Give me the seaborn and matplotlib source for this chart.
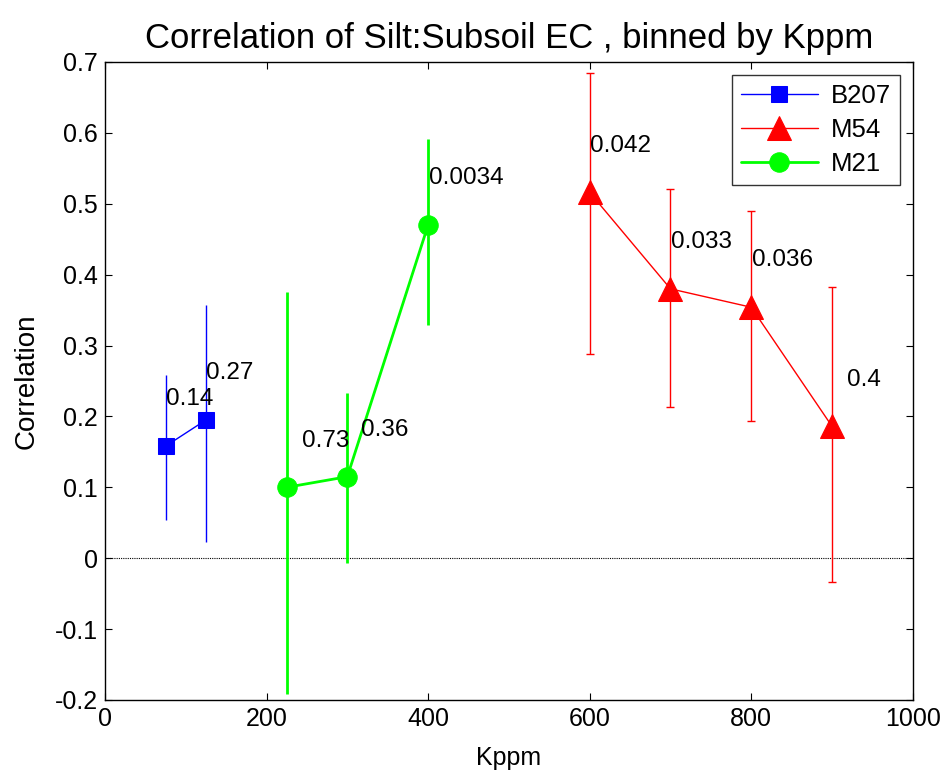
import numpy as np
import pandas as pd
import matplotlib
matplotlib.use("Agg")
import matplotlib.pyplot as plt
import seaborn as sns

# ---- data ----
b207_x = [75, 125]
b207_y = [0.158, 0.195]
b207_lo = [0.054, 0.023]
b207_hi = [0.258, 0.357]
b207_p = ["0.14", "0.27"]

m54_x = [600, 700, 800, 900]
m54_y = [0.516, 0.380, 0.354, 0.186]
m54_lo = [0.288, 0.214, 0.194, -0.033]
m54_hi = [0.685, 0.521, 0.490, 0.383]
m54_p = ["0.042", "0.033", "0.036", "0.4"]

m21_x = [225, 300, 400]
m21_y = [0.100, 0.115, 0.470]
m21_lo = [-0.191, -0.007, 0.329]
m21_hi = [0.376, 0.233, 0.591]
m21_p = ["0.73", "0.36", "0.0034"]

series = ["B207", "M54", "M21"]
x_ticks = [0, 200, 400, 600, 800, 1000]
y_ticks = [-0.2, -0.1, 0, 0.1, 0.2, 0.3, 0.4, 0.5, 0.6, 0.7]

sns.set_theme(style="white")
plt.rcParams['font.family'] = ['Liberation Sans', 'DejaVu Sans']
plt.rcParams['text.color'] = 'black'
plt.rcParams['axes.labelcolor'] = 'black'

fig = plt.figure(figsize=(9.43, 7.72), dpi=100)
ax = fig.add_axes([0.1113, 0.0933, 0.8567, 0.8264])

styles = {
    "B207": dict(color="#0000ff", marker="s", ms=11.5, lw=1.0, cap=0, elw=1.0),
    "M54": dict(color="#ff0000", marker="^", ms=17, lw=1.0, cap=3, elw=1.0),
    "M21": dict(color="#00ff00", marker="o", ms=14, lw=2.0, cap=0, elw=2.0),
}
data = {
    "B207": (b207_x, b207_y, b207_lo, b207_hi, b207_p),
    "M54": (m54_x, m54_y, m54_lo, m54_hi, m54_p),
    "M21": (m21_x, m21_y, m21_lo, m21_hi, m21_p),
}
label_dx = {
    "B207": [0, 0],
    "M54": [1, 1, 1, 19],
    "M21": [19, 17, 1],
}

ax.axhline(0, color="black", lw=0.8, ls=(0, (1, 1)), zorder=1)

for name in series:
    x, y, lo, hi, p = data[name]
    st = styles[name]
    df = pd.DataFrame({"x": x, "y": y})
    yerr = np.array([np.array(y) - np.array(lo), np.array(hi) - np.array(y)])
    ax.errorbar(x, y, yerr=yerr, fmt="none", ecolor=st["color"],
                elinewidth=st["elw"], capsize=st["cap"], capthick=1.0, zorder=2)
    sns.lineplot(data=df, x="x", y="y", ax=ax, color=st["color"], lw=st["lw"],
                 marker=st["marker"], markersize=st["ms"], markeredgecolor=st["color"],
                 markerfacecolor=st["color"], label=name, zorder=3, sort=False)
    for xi, yi, pi, dx in zip(x, y, p, label_dx[name]):
        ax.text(xi + dx, yi + 0.066, pi, fontsize=17.5, ha="left", va="center",
                color="black", zorder=4)

ax.set_xlim(0, 1000)
ax.set_ylim(-0.2, 0.7)
ax.set_xticks(x_ticks)
ax.set_xticklabels([str(t) for t in x_ticks])
ax.set_yticks(y_ticks)
ax.set_yticklabels(["-0.2", "-0.1", "0", "0.1", "0.2", "0.3", "0.4", "0.5", "0.6", "0.7"])
ax.tick_params(axis="both", direction="in", length=5, width=0.8, labelsize=18,
               top=True, right=True, bottom=True, left=True, pad=5, colors="black")
for s in ax.spines.values():
    s.set_color("black")
    s.set_linewidth(1.0)

ax.set_xlabel("Kppm", fontsize=18, labelpad=11, color="black")
ax.set_ylabel("Correlation", fontsize=20, labelpad=11, color="black")
ax.set_title("Correlation of Silt:Subsoil EC , binned by Kppm", fontsize=25, pad=10,
             color="black")

leg = ax.legend(loc="upper right", fontsize=18.5, frameon=True, fancybox=False,
                edgecolor="black", handlelength=3.0, borderaxespad=0.5,
                labelspacing=0.4, handletextpad=0.5, borderpad=0.35)
leg.get_frame().set_linewidth(1.0)
for t in leg.get_texts():
    t.set_color("black")

fig.savefig("out.png", dpi=100, facecolor="white")
